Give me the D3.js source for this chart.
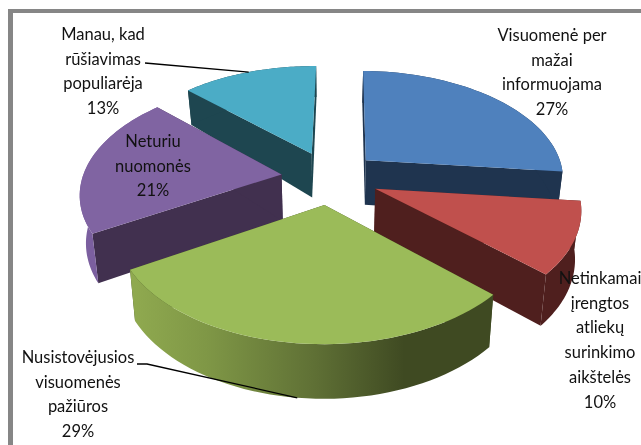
<!DOCTYPE html>
<html>
<head>
<meta charset="utf-8">
<script src="https://cdn.jsdelivr.net/npm/d3@7"></script>
<style>
  html, body { margin: 0; padding: 0; background: #fff; }
  svg { display: block; filter: blur(0.4px); }
  text { font-family: Lato, "Open Sans", sans-serif; font-size: 16.5px; fill: #111; text-anchor: middle; }
</style>
</head>
<body>
<div id="chart"></div>
<script>
// data, clockwise from 12 o'clock. Shares estimated from the slice edges, labels show them rounded
const categories = [
  ["Visuomenė per", "mažai", "informuojama"],
  ["Netinkamai", "įrengtos", "atliekų", "surinkimo", "aikštelės"],
  ["Nusistovėjusios", "visuomenės", "pažiūros"],
  ["Neturiu", "nuomonės"],
  ["Manau, kad", "rūšiavimas", "populiarėja"]
];
const values = [26.5, 10.3, 29.49, 20.7, 13];
const topColors = ["#4f81bd", "#c0504d", "#9bbb59", "#8064a2", "#4bacc6"];
const faceColors = ["#1f344f", "#4f1f1e", "#3f4a22", "#41304f", "#1e4650"];
const rimColors = ["#1f344f", "#4f1f1e", "url(#greenRim)", "#7b5f9f", "#1e4650"];

// label anchors: centre x, first baseline y
const labelAnchors = [[552, 41], [600, 284], [78, 363], [153, 147], [103, 40]];
const lineHeight = 24.7;

const width = 641, height = 445;

// pie geometry in the ground plane, then a small perspective
const cx = 330, cy = 177.5;
const radius = 199, explode = 49;
const rotation = 0.7 * Math.PI / 180;
const tilt = 0.543, persp = 0.155, shrink = 0.975;

const depth = d3.scaleLinear().domain([0.85, 1, 1.25]).range([32, 47, 55]);

let svg = d3.select("#chart").
append("svg").
attr("width", width).
attr("height", height);

let grad = svg.append("defs").append("linearGradient").
attr("id", "greenRim").
attr("gradientUnits", "userSpaceOnUse").
attr("x1", 135).attr("x2", 494).attr("y1", 0).attr("y2", 0);
[[0, "#8fa94f"], [0.2, "#7f9746"], [0.5, "#5f7035"], [0.75, "#3f4a22"], [1, "#3f4a22"]].forEach(s => {
  grad.append("stop").attr("offset", s[0]).attr("stop-color", s[1]);
});

// frame, cut off by the picture on the right and at the bottom
svg.append("rect").attr("x", 8).attr("y", 9).attr("width", width - 8).attr("height", 4).attr("fill", "#868686");
svg.append("rect").attr("x", 8).attr("y", 9).attr("width", 5).attr("height", height - 9).attr("fill", "#868686");

let pie = d3.pie().value(d => d).sort(null).startAngle(rotation).endAngle(rotation + 2 * Math.PI);
let slices = pie(values).map((d, i) => {
  d.mid = (d.startAngle + d.endAngle) / 2;
  d.i = i;
  return d;
});

function project(d, angle, r) {
  let X = explode * Math.sin(d.mid) + r * radius * Math.sin(angle);
  let Y = explode * Math.cos(d.mid) + r * radius * Math.cos(angle);
  let p = 1 / (1 + persp * Y / radius);
  return { x: cx + X * p, y: cy - tilt * Y * p, p: p };
}

function upper(pt) { return [pt.x, pt.y]; }
function lower(pt) { return [cx + (pt.x - cx) * shrink, pt.y + depth(pt.p)]; }

function arcPoints(d) {
  let n = 48;
  return d3.range(n + 1).map(k => project(d, d.startAngle + (d.endAngle - d.startAngle) * k / n, 1));
}

let line = d3.line();

// paint order, back to front
let order = [4, 0, 1, 3, 2];

let cells = svg.selectAll("g.slice").
data(order.map(i => slices[i])).
enter().append("g").
attr("class", "slice");

// the two cut faces
cells.append("path").
attr("fill", d => faceColors[d.i]).
attr("d", d => {
  let a = project(d, d.startAngle, 0), s = project(d, d.startAngle, 1);
  return line([upper(a), upper(s), lower(s), lower(a)]) + "Z";
});
cells.append("path").
attr("fill", d => faceColors[d.i]).
attr("d", d => {
  let a = project(d, d.endAngle, 0), e = project(d, d.endAngle, 1);
  return line([upper(a), upper(e), lower(e), lower(a)]) + "Z";
});

// outer rim
cells.append("path").
attr("fill", d => rimColors[d.i]).
attr("d", d => {
  let pts = arcPoints(d);
  return line(pts.map(upper).concat(pts.slice().reverse().map(lower))) + "Z";
});

// top surface
cells.append("path").
attr("fill", d => topColors[d.i]).
attr("d", d => {
  let pts = arcPoints(d);
  return line([upper(project(d, d.startAngle, 0))].concat(pts.map(upper))) + "Z";
});

// leader lines for the two labels that sit away from their slice
let teal = slices[4], green = slices[2];
svg.append("path").
attr("fill", "none").attr("stroke", "#000").attr("stroke-width", 1.3).
attr("d", line([[145, 63], upper(project(teal, teal.mid, 1))]));
svg.append("path").
attr("fill", "none").attr("stroke", "#000").attr("stroke-width", 1.3).
attr("d", line([[137, 364], [147, 364], lower(project(green, green.mid, 1))]));

// labels
let labels = svg.selectAll("text.label").
data(slices).
enter().append("text").
attr("class", "label");

labels.selectAll("tspan").
data(d => categories[d.i].concat(Math.round(values[d.i]) + "%").map(t => ({ t: t, i: d.i }))).
enter().append("tspan").
attr("x", d => labelAnchors[d.i][0]).
attr("y", (d, k) => labelAnchors[d.i][1] + k * lineHeight).
text(d => d.t);
</script>
</body>
</html>
